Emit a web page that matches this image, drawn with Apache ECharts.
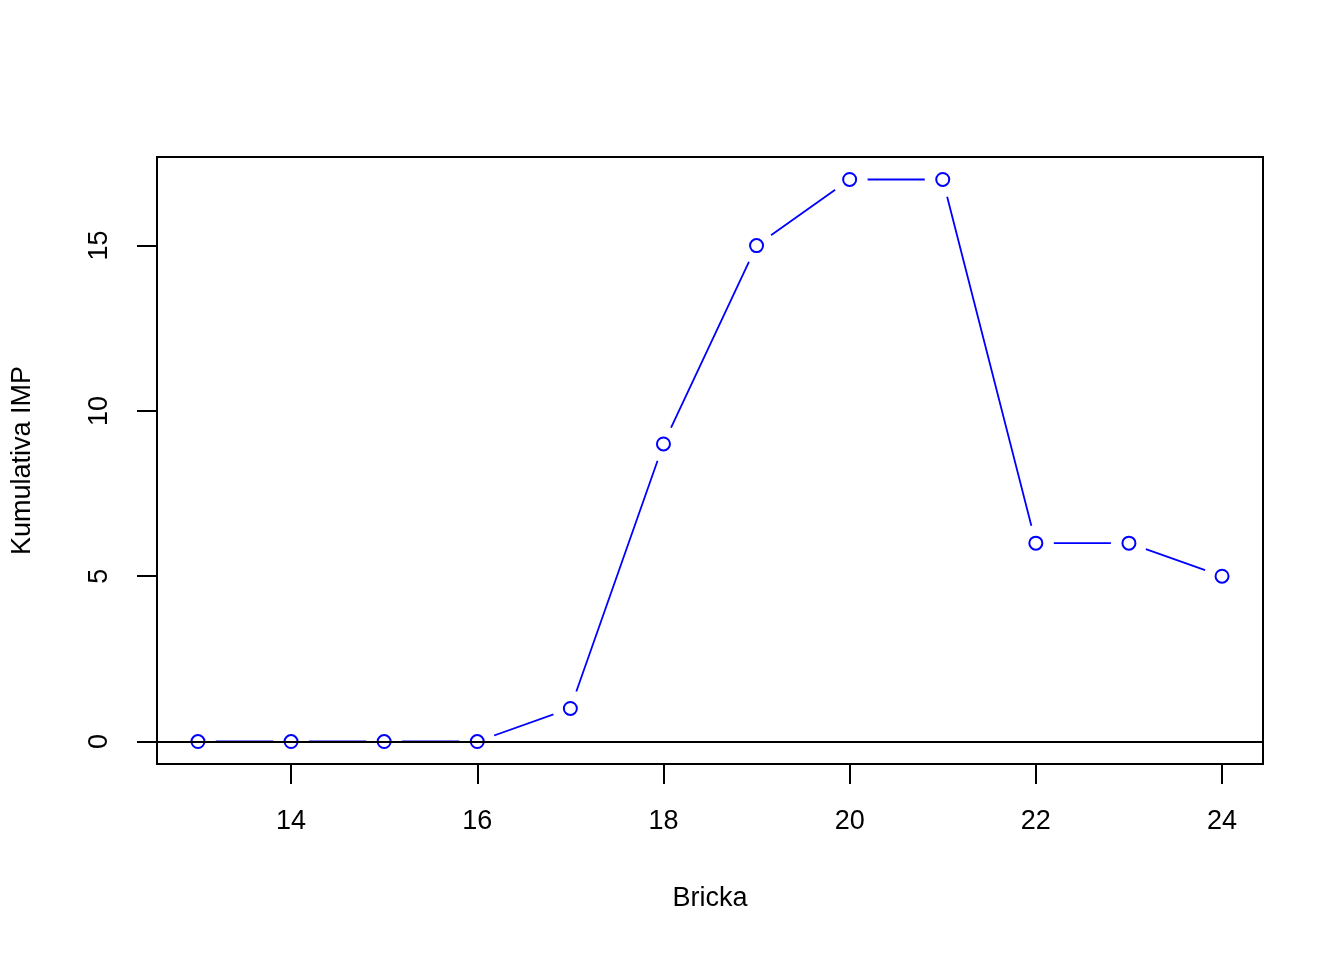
<!DOCTYPE html>
<html>
<head>
<meta charset="utf-8">
<script src="https://cdn.jsdelivr.net/npm/echarts@6/dist/echarts.min.js"></script>
<style>html,body{margin:0;padding:0;background:#fff}#c{width:1344px;height:960px}</style>
</head>
<body>
<div id="c"></div>
<script>
const bricka = [13, 14, 15, 16, 17, 18, 19, 20, 21, 22, 23, 24];
const imp = [0, 0, 0, 0, 1, 9, 15, 17, 17, 6, 6, 5];
const xTicks = [14, 16, 18, 20, 22, 24];
const yTicks = [0, 5, 10, 15];

const FONT = "'Liberation Sans', Arial, Helvetica, sans-serif";
const FS = 27;
const xr = [Math.min(...bricka), Math.max(...bricka)];
const yr = [Math.min(...imp), Math.max(...imp)];
const xpad = (xr[1] - xr[0]) * 0.04, ypad = (yr[1] - yr[0]) * 0.04;
const pts = bricka.map((b, i) => [b, imp[i]]);

const chart = echarts.init(document.getElementById('c'), null, {renderer: 'canvas'});
chart.setOption({
  backgroundColor: '#fff',
  animation: false,
  grid: {left: 157, top: 157, right: 81, bottom: 196, show: true, borderColor: '#000', borderWidth: 2, backgroundColor: 'transparent'},
  xAxis: {
    type: 'value', min: xr[0] - xpad, max: xr[1] + xpad,
    axisLine: {show: false, onZero: false},
    splitLine: {show: false},
    axisTick: {show: true, inside: false, length: 20, customValues: xTicks, lineStyle: {color: '#000', width: 2}},
    axisLabel: {show: true, customValues: xTicks, margin: 44, color: '#000', fontFamily: FONT, fontSize: FS},
    name: 'Bricka', nameLocation: 'middle', nameGap: 121,
    nameTextStyle: {color: '#000', fontFamily: FONT, fontSize: FS}
  },
  yAxis: {
    type: 'value', min: yr[0] - ypad, max: yr[1] + ypad,
    axisLine: {show: false, onZero: false},
    splitLine: {show: false},
    axisTick: {show: true, inside: false, length: 20, customValues: yTicks, lineStyle: {color: '#000', width: 2}},
    axisLabel: {show: true, customValues: yTicks, rotate: 90, margin: 44, color: '#000', fontFamily: FONT, fontSize: FS},
    name: 'Kumulativa IMP', nameLocation: 'middle', nameGap: 121, nameRotate: 90,
    nameTextStyle: {color: '#000', fontFamily: FONT, fontSize: FS}
  },
  series: [
    {type: 'line', data: pts, showSymbol: false, symbol: 'none', lineStyle: {color: '#0000ff', width: 1.8}, z: 2, silent: true},
    {type: 'scatter', data: pts, symbol: 'circle', symbolSize: 36, itemStyle: {color: '#fff', borderWidth: 0, opacity: 1}, z: 3, silent: true},
    {type: 'scatter', data: pts, symbol: 'circle', symbolSize: 13,
     itemStyle: {color: 'rgba(0,0,0,0)', borderColor: '#0000ff', borderWidth: 2, opacity: 1}, z: 4, silent: true,
     markLine: {silent: true, symbol: 'none', label: {show: false}, lineStyle: {color: '#000', width: 2, type: 'solid'},
       data: [{yAxis: 0}], z: 10}}
  ]
});
</script>
</body>
</html>
